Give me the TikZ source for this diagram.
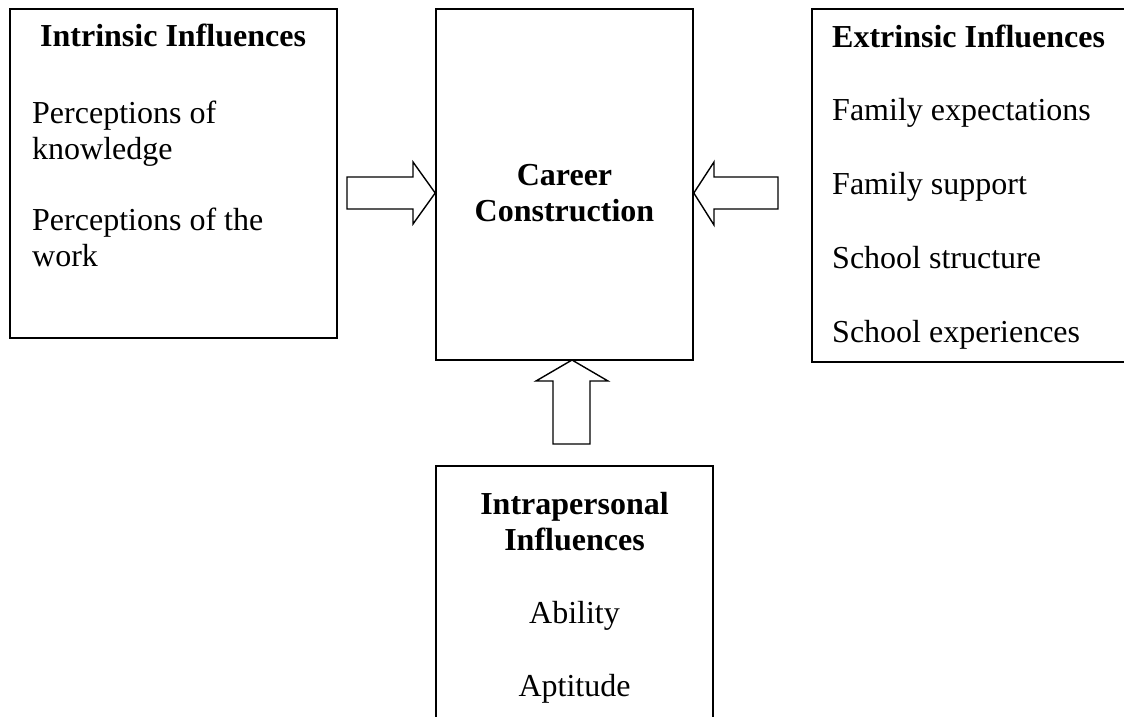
\documentclass[tikz,border=0pt]{standalone}
\usepackage{fontspec}
\setmainfont{Liberation Serif}
\begin{document}
\begin{tikzpicture}[x=1pt,y=-1pt,
  box/.style={draw, line width=1.6pt, inner sep=0pt},
  blockarrow/.style={draw, line width=1.4pt, line join=miter},
  txt/.style={inner sep=0pt, anchor=base west, font=\fontsize{32}{36.5}\selectfont},
  head/.style={inner sep=0pt, anchor=base west, font=\fontsize{32}{36.5}\selectfont\bfseries},
  ctxt/.style={inner sep=0pt, anchor=base, font=\fontsize{32}{36.5}\selectfont},
  chead/.style={inner sep=0pt, anchor=base, font=\fontsize{32}{36.5}\selectfont\bfseries}]
\clip (0,0) rectangle (1124,717);
\fill[white] (0,0) rectangle (1124,717);
% boxes
\node[box, minimum width=327pt, minimum height=329pt] (intr) at (173.5,173.5) {};
\node[box, minimum width=257pt, minimum height=351pt] (career) at (564.5,184.5) {};
\node[box, minimum width=330pt, minimum height=353pt] (extr) at (977,185.5) {};
\node[box, minimum width=277pt, minimum height=280pt] (intra) at (574.5,606) {};
% intrinsic
\node[head] (h1) at (40,47) {Intrinsic Influences};
\node[txt] (t1) at (32,123) {Perceptions of};
\node[txt] (t2) at (32,159.5) {knowledge};
\node[txt] (t3) at (32,230) {Perceptions of the};
\node[txt] (t4) at (32,266.5) {work};
% career
\node[chead] (c1) at (564.5,185) {Career};
\node[chead] (c2) at (564.5,221.5) {Construction};
% extrinsic
\node[head] (h2) at (832,48) {Extrinsic Influences};
\node[txt] (e1) at (832,120) {Family expectations};
\node[txt] (e2) at (832,194) {Family support};
\node[txt] (e3) at (832,268) {School structure};
\node[txt] (e4) at (832,342) {School experiences};
% intrapersonal
\node[chead] (i1) at (574.5,514) {Intrapersonal};
\node[chead] (i2) at (574.5,550.5) {Influences};
\node[ctxt] (i3) at (574.5,623) {Ability};
\node[ctxt] (i4) at (574.5,696) {Aptitude};
% block arrows
\coordinate (tipL) at (career.west |- 0,193);
\coordinate (tipR) at (career.east |- 0,193);
\coordinate (tipU) at (572,360);
\draw[blockarrow] (347,177) -- (413,177) -- (413,162) -- (tipL) -- (413,224) -- (413,209) -- (347,209) -- cycle;
\draw[blockarrow] (778,177) -- (714,177) -- (714,162) -- (tipR) -- (714,225) -- (714,209) -- (778,209) -- cycle;
\draw[blockarrow] (553,444) -- (553,381) -- (536,381) -- (tipU) -- (608,381) -- (590,381) -- (590,444) -- cycle;
\end{tikzpicture}
\end{document}
